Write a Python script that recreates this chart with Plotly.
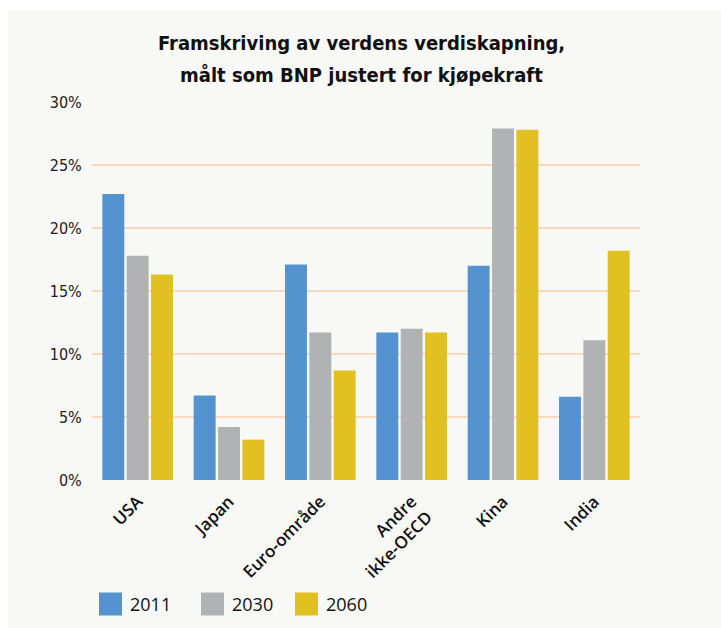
import plotly.graph_objects as go

# Regions and projected shares of world GDP (PPP), in percent
regions = ["USA", "Japan", "Euro-område", "Andre<br>ikke-OECD", "Kina", "India"]
years = ["2011", "2030", "2060"]
share_2011 = [22.7, 6.7, 17.1, 11.7, 17.0, 6.6]
share_2030 = [17.8, 4.2, 11.7, 12.0, 27.9, 11.1]
share_2060 = [16.3, 3.2, 8.7, 11.7, 27.8, 18.2]
colors = ["#5593d0", "#b1b2b4", "#e1c121"]
title_lines = ["Framskriving av verdens verdiskapning,", "målt som BNP justert for kjøpekraft"]

y_ticks = [0, 5, 10, 15, 20, 25, 30]
y_tick_text = ["0%", "5%", "10%", "15%", "20%", "25%", "30%"]

W, H = 721, 628
ML, MR, MT, MB = 92, 81, 102, 148
PW, PH = W - ML - MR, H - MT - MB
panel = "#f8f8f6"
cond = "DejaVu Sans Condensed, DejaVu Sans, sans-serif"


def px_x(x):
    return (x - ML) / PW


def px_y(y):
    return (H - MB - y) / PH


fig = go.Figure()
for name, vals, col in zip(years, [share_2011, share_2030, share_2060], colors):
    fig.add_trace(go.Bar(x=regions, y=vals, name=name, marker_color=col,
                         marker_line_width=0, showlegend=False))

# white strips around the grey panel
shapes = [
    dict(type="rect", xref="paper", yref="paper", layer="below",
         x0=px_x(0), x1=px_x(W), y0=px_y(10), y1=px_y(-2),
         fillcolor="white", line_width=0),
    dict(type="rect", xref="paper", yref="paper", layer="below",
         x0=px_x(-2), x1=px_x(8), y0=px_y(H + 2), y1=px_y(-2),
         fillcolor="white", line_width=0),
]

annotations = []
# two-line heading
for line, yc in zip(title_lines, [43, 75]):
    annotations.append(dict(xref="paper", yref="paper", x=px_x(361), y=px_y(yc),
                            xanchor="center", yanchor="middle", text=line, showarrow=False,
                            font=dict(family=cond, size=20, color="#111", weight="bold")))

# legend row drawn as swatches with labels
leg_x = [99, 201, 295]
sq = 23
leg_yc = 604
for name, col, lx in zip(years, colors, leg_x):
    shapes.append(dict(type="rect", xref="paper", yref="paper",
                       x0=px_x(lx), x1=px_x(lx + sq),
                       y0=px_y(leg_yc + sq / 2), y1=px_y(leg_yc - sq / 2),
                       fillcolor=col, line_width=0))
    annotations.append(dict(xref="paper", yref="paper", x=px_x(lx + sq + 6),
                            y=px_y(leg_yc), xanchor="left", yanchor="middle",
                            text=name, showarrow=False,
                            font=dict(family="Open Sans", size=18, color="#111")))

fig.update_layout(
    width=W, height=H,
    margin=dict(l=ML, r=MR, t=MT, b=MB),
    paper_bgcolor=panel, plot_bgcolor=panel,
    barmode="group", bargap=0.2, bargroupgap=0.1,
    shapes=shapes, annotations=annotations,
    showlegend=False,
)
fig.update_yaxes(range=[0, 30], tickvals=y_ticks, ticktext=y_tick_text,
                 showgrid=True, gridcolor="#f9d9bd", gridwidth=2,
                 zeroline=False, showline=False,
                 ticks="outside", ticklen=6, tickcolor="rgba(0,0,0,0)",
                 tickfont=dict(family=cond, size=16, color="#222"))
fig.update_xaxes(tickangle=-45, showgrid=False, showline=False,
                 ticks="outside", ticklen=4, tickcolor="rgba(0,0,0,0)",
                 tickfont=dict(family="Open Sans", size=17, color="#111", weight=600))

fig.write_html("out.html")
